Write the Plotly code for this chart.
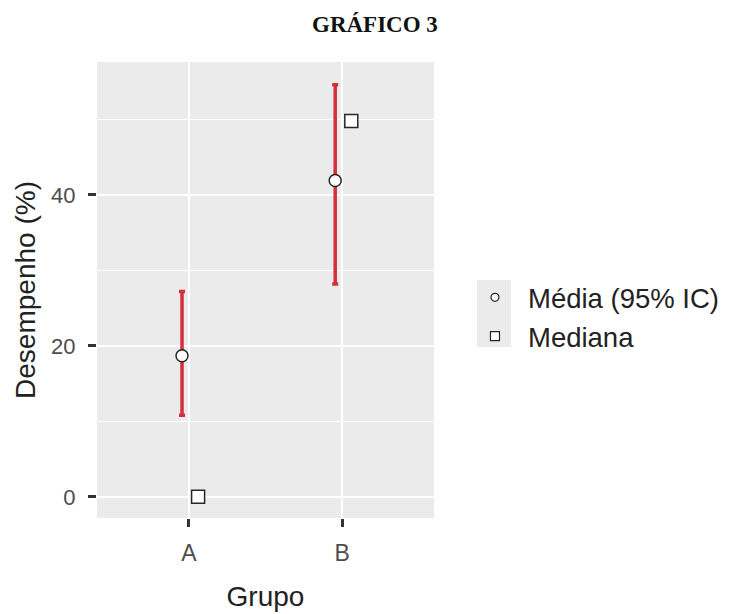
import plotly.graph_objects as go

# data
grupos = ["A", "B"]
media = [18.7, 41.9]
ic_inf = [10.8, 28.2]
ic_sup = [27.2, 54.6]
mediana = [0.0, 49.8]

dodge_media = -0.045
dodge_mediana = 0.06

pos = list(range(len(grupos)))
x_media = [p + dodge_media for p in pos]
x_mediana = [p + dodge_mediana for p in pos]

red = "#d42f3b"
edge = "#262626"
fig = go.Figure()

fig.add_trace(go.Scatter(
    x=x_media, y=media, mode="markers", name="Média (95% IC)", showlegend=False,
    marker=dict(symbol="circle", size=12, color="white",
                line=dict(color=edge, width=1.5)),
    error_y=dict(type="data", symmetric=False,
                 array=[s - m for s, m in zip(ic_sup, media)],
                 arrayminus=[m - i for m, i in zip(media, ic_inf)],
                 color=red, thickness=3.5, width=3),
))
fig.add_trace(go.Scatter(
    x=x_mediana, y=mediana, mode="markers", name="Mediana", showlegend=False,
    marker=dict(symbol="square", size=13, color="white",
                line=dict(color=edge, width=1.5)),
))

# legend-only entries with smaller keys, like the ggplot legend
fig.add_trace(go.Scatter(
    x=[None], y=[None], mode="markers", name="Média (95% IC)",
    marker=dict(symbol="circle", size=8, color="white", line=dict(color=edge, width=1.2)),
))
fig.add_trace(go.Scatter(
    x=[None], y=[None], mode="markers", name="Mediana",
    marker=dict(symbol="square", size=9, color="white", line=dict(color=edge, width=1.2)),
))

fig.update_layout(
    width=731, height=614,
    margin=dict(l=97, r=297, t=62, b=96, autoexpand=False),
    paper_bgcolor="white", plot_bgcolor="#ebebeb",
    font=dict(family="Liberation Sans, Arial, sans-serif", color="#222222"),
    showlegend=True,
    legend=dict(x=1.083, y=0.441, xanchor="left", yanchor="middle",
                bgcolor="rgba(0,0,0,0)", font=dict(size=27.5, color="#222222"),
                itemsizing="trace", itemwidth=56, tracegroupgap=0),
    annotations=[dict(text="<b>GRÁFICO 3</b>", xref="paper", yref="paper",
                      x=(375 - 97) / 337, y=1.082, xanchor="center", yanchor="middle",
                      showarrow=False,
                      font=dict(family="Liberation Serif, Times New Roman, serif",
                                size=23, color="#111111"))],
    shapes=[dict(type="rect", xref="paper", yref="paper",
                 x0=(477 - 97) / 337, x1=(511 - 97) / 337,
                 y0=(518 - 347) / 456, y1=(518 - 280) / 456,
                 fillcolor="#ebebeb", line=dict(width=0), layer="below")],
)

fig.update_xaxes(
    range=[-0.6, 1.6], tickvals=pos, ticktext=grupos,
    showgrid=True, gridcolor="white", gridwidth=2.4,
    zeroline=False, ticks="outside", ticklen=8, tickwidth=2.5,
    tickcolor="#333333", ticklabelstandoff=6,
    tickfont=dict(size=23, color="#4d4d4d"),
    title=dict(text="Grupo", font=dict(size=28, color="#222222"), standoff=21),
)
fig.update_yaxes(
    range=[-2.8, 57.6], tickvals=[0, 20, 40],
    showgrid=True, gridcolor="white", gridwidth=2.4,
    minor=dict(tickvals=[10, 30, 50], showgrid=True, gridcolor="white", gridwidth=1.2),
    zeroline=False, ticks="outside", ticklen=8, tickwidth=2.5,
    tickcolor="#333333", ticklabelstandoff=8,
    tickfont=dict(size=22, color="#4d4d4d"),
    title=dict(text="Desempenho (%)", font=dict(size=28, color="#222222"), standoff=7),
)

fig.write_html("out.html", config={"displayModeBar": False},
               post_script="document.body.style.margin='0px';")
